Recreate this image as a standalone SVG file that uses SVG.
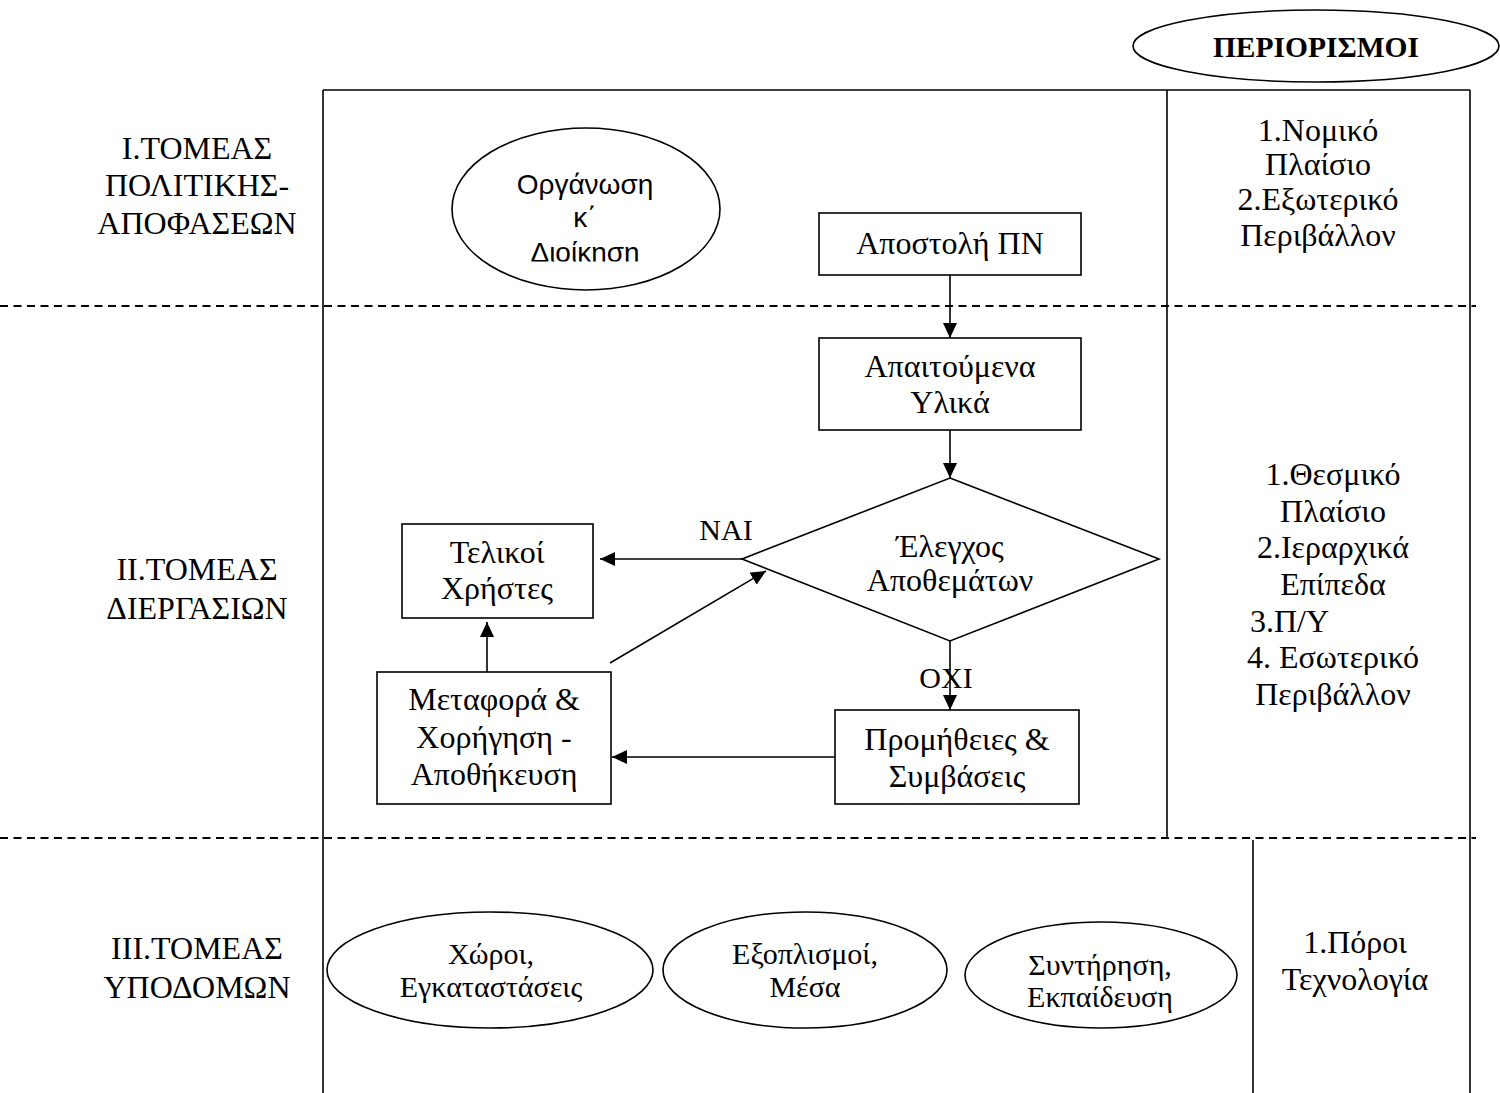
<svg xmlns="http://www.w3.org/2000/svg" width="1500" height="1093" viewBox="0 0 1500 1093">
<style>
.t{font-family:"Liberation Serif","Times New Roman",serif;font-size:32px;fill:#000;text-anchor:middle}
.m{font-size:30px}
.s{font-family:"Liberation Sans",Arial,sans-serif;font-size:28px;fill:#000;text-anchor:middle}
.b{font-weight:bold;font-size:29.5px}
.shape{fill:#fff;stroke:#000;stroke-width:1.6}
.ln{stroke:#000;stroke-width:1.6;fill:none}
.dash{stroke:#000;stroke-width:2;stroke-dasharray:8 5.5;fill:none}
.arr{stroke:#000;stroke-width:1.6;fill:none;marker-end:url(#ah)}
</style>
<defs>
<marker id="ah" markerUnits="userSpaceOnUse" markerWidth="15" markerHeight="14" refX="15" refY="7" orient="auto">
<path d="M0,0 L15,7 L0,14 z" fill="#000"/>
</marker>
<clipPath id="orgclip"><rect x="440" y="120" width="300" height="141.5"/></clipPath>
</defs>
<rect width="1500" height="1093" fill="#fff"/>

<g id="frame">
<line class="ln" x1="323" y1="90" x2="323" y2="1093"/>
<line class="ln" x1="323" y1="90" x2="1470" y2="90"/>
<line class="ln" x1="1167" y1="90" x2="1167" y2="838"/>
<line class="ln" x1="1470" y1="90" x2="1470" y2="1093"/>
<line class="ln" x1="1253" y1="840" x2="1253" y2="1093"/>
<line class="dash" x1="0" y1="306" x2="1476" y2="306"/>
<line class="dash" x1="0" y1="838" x2="1476" y2="838"/>
</g>

<g id="sector-labels">
<text class="t"><tspan x="197" y="159">I.ΤΟΜΕΑΣ</tspan><tspan x="197" y="196">ΠΟΛΙΤΙΚΗΣ-</tspan><tspan x="197" y="234">ΑΠΟΦΑΣΕΩΝ</tspan></text>
<text class="t"><tspan x="197" y="580">II.ΤΟΜΕΑΣ</tspan><tspan x="197" y="619">ΔΙΕΡΓΑΣΙΩΝ</tspan></text>
<text class="t"><tspan x="197" y="959">III.ΤΟΜΕΑΣ</tspan><tspan x="197" y="998">ΥΠΟΔΟΜΩΝ</tspan></text>
</g>

<g id="periorismoi">
<ellipse class="shape" cx="1316" cy="46" rx="183" ry="36"/>
<text class="t b" x="1316" y="57">ΠΕΡΙΟΡΙΣΜΟΙ</text>
</g>

<g id="constraints-1">
<text class="t"><tspan x="1318" y="141">1.Νομικό</tspan><tspan x="1318" y="175">Πλαίσιο</tspan><tspan x="1318" y="210">2.Εξωτερικό</tspan><tspan x="1318" y="246">Περιβάλλον</tspan></text>
</g>

<g id="constraints-2">
<text class="t"><tspan x="1333" y="485">1.Θεσμικό</tspan><tspan x="1333" y="522">Πλαίσιο</tspan><tspan x="1333" y="558">2.Ιεραρχικά</tspan><tspan x="1333" y="595">Επίπεδα</tspan><tspan x="1250" y="632" text-anchor="start">3.Π/Υ</tspan><tspan x="1333" y="668">4. Εσωτερικό</tspan><tspan x="1333" y="705">Περιβάλλον</tspan></text>
</g>

<g id="constraints-3">
<text class="t"><tspan x="1355" y="953">1.Πόροι</tspan><tspan x="1355" y="990">Τεχνολογία</tspan></text>
</g>

<g id="organosi">
<ellipse class="shape" cx="586" cy="209" rx="134" ry="81"/>
<text class="s" clip-path="url(#orgclip)"><tspan x="585" y="194">Οργάνωση</tspan><tspan x="585" y="227">κ΄</tspan><tspan x="585" y="262">Διοίκηση</tspan></text>
</g>

<g id="apostoli">
<rect class="shape" x="819" y="213" width="262" height="62"/>
<text class="t" x="950" y="254">Αποστολή ΠΝ</text>
</g>

<g id="apaitoumena">
<rect class="shape" x="819" y="338" width="262" height="92"/>
<text class="t"><tspan x="950" y="377">Απαιτούμενα</tspan><tspan x="950" y="413">Υλικά</tspan></text>
</g>

<g id="elegxos">
<polygon class="shape" points="950,478 1159,559 950,641 742,559"/>
<text class="t"><tspan x="950" y="557">Έλεγχος</tspan><tspan x="950" y="591">Αποθεμάτων</tspan></text>
</g>

<g id="telikoi">
<rect class="shape" x="402" y="524" width="191" height="94"/>
<text class="t"><tspan x="497" y="563">Τελικοί</tspan><tspan x="497" y="599">Χρήστες</tspan></text>
</g>

<g id="metafora">
<rect class="shape" x="377" y="672" width="234" height="132"/>
<text class="t"><tspan x="494" y="710">Μεταφορά &amp;</tspan><tspan x="494" y="748">Χορήγηση -</tspan><tspan x="494" y="785">Αποθήκευση</tspan></text>
</g>

<g id="promitheies">
<rect class="shape" x="835" y="710" width="244" height="94"/>
<text class="t"><tspan x="957" y="750">Προμήθειες &amp;</tspan><tspan x="957" y="787">Συμβάσεις</tspan></text>
</g>

<g id="xoroi">
<ellipse class="shape" cx="490" cy="970" rx="163" ry="58"/>
<text class="t m"><tspan x="491" y="964">Χώροι,</tspan><tspan x="491" y="997">Εγκαταστάσεις</tspan></text>
</g>

<g id="eksoplismoi">
<ellipse class="shape" cx="805" cy="970" rx="142" ry="58"/>
<text class="t m"><tspan x="805" y="964">Εξοπλισμοί,</tspan><tspan x="805" y="997">Μέσα</tspan></text>
</g>

<g id="syntirisi">
<ellipse class="shape" cx="1101" cy="975" rx="136" ry="53"/>
<text class="t m"><tspan x="1100" y="975">Συντήρηση,</tspan><tspan x="1100" y="1007">Εκπαίδευση</tspan></text>
</g>

<g id="connectors">
<line class="arr" x1="950" y1="275" x2="950" y2="338"/>
<line class="arr" x1="950" y1="430" x2="950" y2="478"/>
<line class="arr" x1="742" y1="559" x2="600" y2="559"/>
<line class="arr" x1="950" y1="641" x2="950" y2="710"/>
<line class="arr" x1="835" y1="757" x2="612" y2="757"/>
<line class="arr" x1="487" y1="672" x2="487" y2="622"/>
<line class="arr" x1="610" y1="663" x2="766" y2="571"/>
<text class="t m" x="726" y="540">ΝΑΙ</text>
<text class="t m" x="946" y="688" text-anchor="end">ΟΧΙ</text>
</g>
</svg>
